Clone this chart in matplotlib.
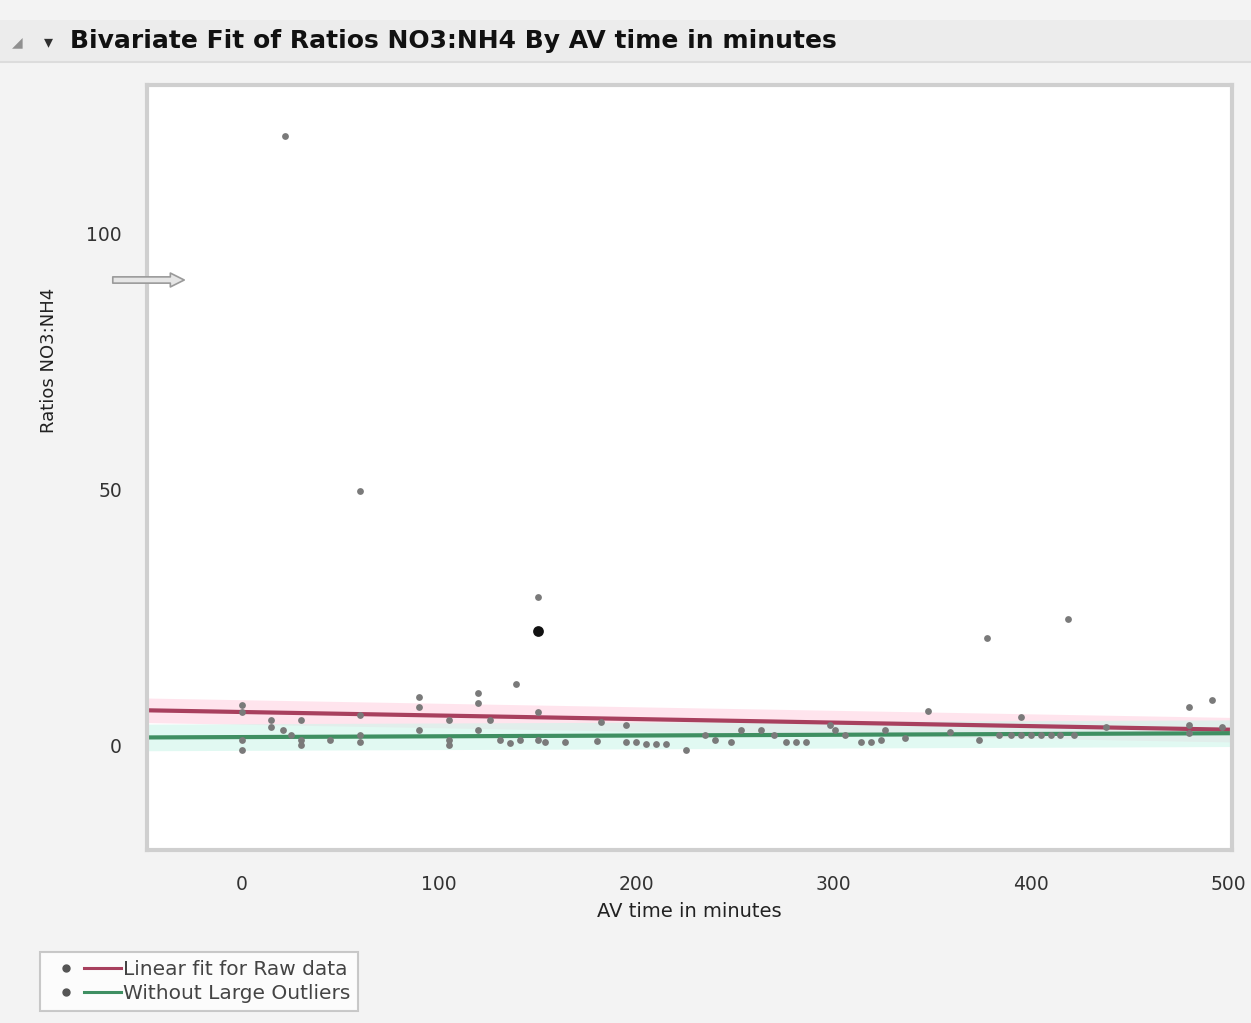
import matplotlib
matplotlib.use("Agg")
import matplotlib.pyplot as plt
import numpy as np
from matplotlib.lines import Line2D
from matplotlib.legend_handler import HandlerTuple

plt.rcParams['font.family'] = ['DejaVu Sans']

# AV time (min) vs NO3:NH4 ratio
av_time = [0, 0, 0, 0, 15, 15, 21, 25, 30, 30, 30, 45, 60, 60, 60,
           90, 90, 90, 105, 105, 105, 120, 120, 126, 120, 131, 139, 136, 141,
           150, 150, 150, 154, 164, 180, 182, 195, 195, 200, 205, 210, 215,
           225, 235, 240, 248, 253, 263, 270, 276, 281, 286, 298, 301, 306,
           314, 319, 324, 326, 336, 348, 359, 374, 378, 384, 390, 395, 395,
           400, 405, 410, 415, 419, 422, 438, 480, 480, 480, 492, 497,
           22, 60]
ratio = [7.8, 6.4, 1.0, -1.0, 4.9, 3.5, 2.9, 2.0, 4.9, 1.0, 0.0, 1.0, 5.9, 2.0, 0.6,
         9.4, 7.4, 2.9, 4.9, 1.0, 0.0, 10.2, 8.2, 4.9, 2.9, 1.0, 11.9, 0.4, 1.0,
         28.9, 6.4, 1.0, 0.6, 0.6, 0.8, 4.5, 3.9, 0.6, 0.6, 0.2, 0.2, 0.2,
         -1.0, 2.0, 1.0, 0.6, 2.9, 2.9, 2.0, 0.6, 0.6, 0.6, 3.9, 2.9, 2.0,
         0.6, 0.6, 1.0, 2.9, 1.4, 6.6, 2.5, 1.0, 20.9, 2.0, 2.0, 5.5, 2.0,
         2.0, 2.0, 2.0, 2.0, 24.6, 2.0, 3.5, 7.4, 3.9, 2.3, 8.8, 3.5,
         119.0, 49.6]
# highlighted row
sel_time = [150]
sel_ratio = [22.3]

# fitted lines read as intercept / slope
raw_fit = (6.47, -0.0069)
trim_fit = (1.57, 0.0015)
raw_band = 2.4
trim_band = 2.6

RED = '#a8405e'
GREEN = '#3f8f62'

fig = plt.figure(figsize=(12.51, 10.23), dpi=100, facecolor='#f3f3f3')

# header bar
fig.patches.append(plt.Rectangle((0, 1 - 62 / 1023), 1, 42 / 1023, transform=fig.transFigure,
                                 facecolor='#ececec', edgecolor='none', zorder=0))
fig.add_artist(Line2D([0, 1], [1 - 62 / 1023] * 2, color='#dcdcdc', lw=1.5))
fig.text(12 / 1251, 1 - 42 / 1023, '\u25e2', fontsize=10, color='#909090', va='center')
fig.text(44 / 1251, 1 - 42 / 1023, '\u25be', fontsize=13, color='#303030', va='center')
fig.text(70 / 1251, 1 - 41 / 1023, 'Bivariate Fit of Ratios NO3:NH4 By AV time in minutes',
         fontsize=18, fontweight='bold', color='#111111', va='center')

ax = fig.add_axes([147 / 1251, 1 - 850 / 1023, 1085 / 1251, 765 / 1023])
ax.set_facecolor('white')
ax.set_xlim(-48, 502)
ax.set_ylim(-20.5, 129)

xs = np.linspace(-48, 502, 50)
red_y = raw_fit[0] + raw_fit[1] * xs
green_y = trim_fit[0] + trim_fit[1] * xs
ax.fill_between(xs, red_y - raw_band, red_y + raw_band, color='#ffd3e2', alpha=0.6, lw=0, zorder=1)
ax.fill_between(xs, green_y - trim_band, green_y + trim_band, color='#cdf6ea', alpha=0.6, lw=0, zorder=1)
ax.plot(xs, red_y, color=RED, lw=3, zorder=2)
ax.plot(xs, green_y, color=GREEN, lw=3, zorder=2)

ax.scatter(av_time, ratio, s=24, color='#7a7a7a', zorder=3, linewidths=0)
ax.scatter(sel_time, sel_ratio, s=60, color='#111111', zorder=4, linewidths=0)

ax.set_xticks([0, 100, 200, 300, 400, 500])
ax.set_yticks([0, 50, 100])
ax.tick_params(axis='both', length=0, labelsize=13.5, labelcolor='#333333')
ax.tick_params(axis='x', pad=18)
ax.tick_params(axis='y', pad=18)
for s in ax.spines.values():
    s.set_color('#cfcfcf')
    s.set_linewidth(3)

ax.set_xlabel('AV time in minutes', fontsize=14, color='#222222', labelpad=6)
ax.set_ylabel('Ratios NO3:NH4', fontsize=13, color='#222222')
ax.yaxis.set_label_coords(-0.082, 0.64)

# hidden-row marker on the left
ax.annotate('', xy=(187 / 1251, 1 - 280 / 1023), xytext=(110 / 1251, 1 - 280 / 1023),
            xycoords='figure fraction', textcoords='figure fraction',
            arrowprops=dict(arrowstyle='simple,head_width=1.0,head_length=1.0,tail_width=0.45',
                            fc='#e6e6e6', ec='#9a9a9a', lw=1.2))

dot = Line2D([], [], marker='o', ls='none', color='#555555', markersize=5)
red_line = Line2D([], [], color=RED, lw=2.2)
green_line = Line2D([], [], color=GREEN, lw=2.2)
leg = fig.legend([(dot, red_line), (dot, green_line)],
                 ['Linear fit for Raw data', 'Without Large Outliers'],
                 handler_map={tuple: HandlerTuple(ndivide=2, pad=0)},
                 loc='lower left', bbox_to_anchor=(30 / 1251, 2 / 1023),
                 fontsize=14.5, handlelength=3.6, handletextpad=0.1, labelspacing=0.25,
                 frameon=True, fancybox=False, edgecolor='#bdbdbd', facecolor='white',
                 borderpad=0.4)
leg.get_frame().set_linewidth(1.5)
for t in leg.get_texts():
    t.set_color('#444444')

fig.savefig('out.png', dpi=100, facecolor=fig.get_facecolor())
